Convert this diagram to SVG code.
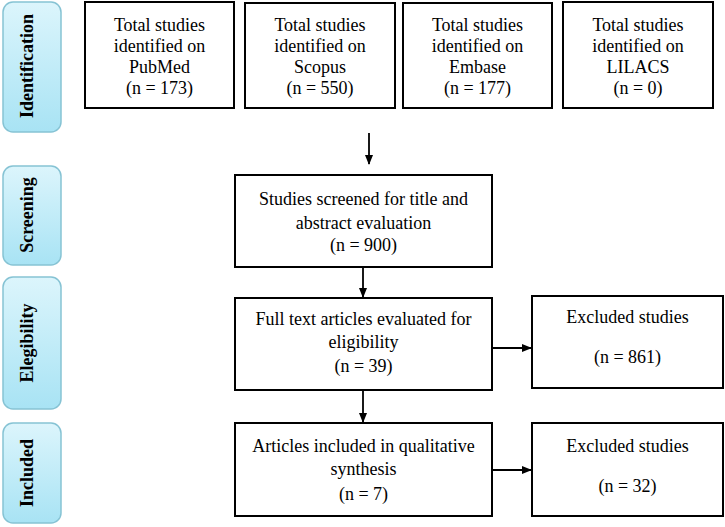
<svg xmlns="http://www.w3.org/2000/svg" width="725" height="527" viewBox="0 0 725 527">
<defs>
<linearGradient id="side" x1="0" y1="0" x2="0" y2="1">
<stop offset="0" stop-color="#dcf5fc"/>
<stop offset="1" stop-color="#a8e3f4"/>
</linearGradient>
<marker id="ah" markerWidth="10" markerHeight="10" refX="9" refY="5" orient="auto" markerUnits="userSpaceOnUse">
<path d="M0,1 L10,5 L0,9 Z" fill="#000"/>
</marker>
</defs>
<style>
.side{fill:url(#side);stroke:#86c3d4;stroke-width:1.5}
.lab{font-size:18px;font-weight:bold;text-anchor:middle;fill:#000}
.box{fill:#fff;stroke:#000;stroke-width:2}
.t{font-size:18px;text-anchor:middle;fill:#000}
.c{stroke:#000;stroke-width:1.8;fill:none;marker-end:url(#ah)}
</style>
<rect width="725" height="527" fill="#fff"/>
<g font-family="Liberation Serif, Times New Roman, DejaVu Serif, serif">
<g id="stage-identification">
<rect class="side" x="3" y="2" width="58" height="130" rx="10"/>
<text class="lab" transform="translate(33,66) rotate(-90)">Identification</text>
</g>
<g id="stage-screening">
<rect class="side" x="3" y="166" width="58" height="99" rx="10"/>
<text class="lab" transform="translate(33,215) rotate(-90)">Screening</text>
</g>
<g id="stage-eligibility">
<rect class="side" x="3" y="277" width="58" height="132" rx="10"/>
<text class="lab" transform="translate(33,343) rotate(-90)">Elegibility</text>
</g>
<g id="stage-included">
<rect class="side" x="3" y="423" width="58" height="100" rx="10"/>
<text class="lab" transform="translate(33,473) rotate(-90)">Included</text>
</g>
<g id="pubmed">
<rect class="box" x="85" y="2" width="149" height="106"/>
<text class="t" x="159.5" y="31">Total studies</text>
<text class="t" x="159.5" y="52">identified on</text>
<text class="t" x="159.5" y="73">PubMed</text>
<text class="t" x="159.5" y="94">(n = 173)</text>
</g>
<g id="scopus">
<rect class="box" x="245" y="3" width="150" height="105"/>
<text class="t" x="320" y="31">Total studies</text>
<text class="t" x="320" y="52">identified on</text>
<text class="t" x="320" y="73">Scopus</text>
<text class="t" x="320" y="94">(n = 550)</text>
</g>
<g id="embase">
<rect class="box" x="403" y="3" width="149" height="105"/>
<text class="t" x="477.5" y="31">Total studies</text>
<text class="t" x="477.5" y="52">identified on</text>
<text class="t" x="477.5" y="73">Embase</text>
<text class="t" x="477.5" y="94">(n = 177)</text>
</g>
<g id="lilacs">
<rect class="box" x="563" y="2" width="150" height="106"/>
<text class="t" x="638" y="31">Total studies</text>
<text class="t" x="638" y="52">identified on</text>
<text class="t" x="638" y="73">LILACS</text>
<text class="t" x="638" y="94">(n = 0)</text>
</g>
<g id="screened">
<rect class="box" x="235" y="175" width="257" height="92"/>
<text class="t" x="363.5" y="205">Studies screened for title and</text>
<text class="t" x="363.5" y="229">abstract evaluation</text>
<text class="t" x="363.5" y="251">(n = 900)</text>
</g>
<g id="fulltext">
<rect class="box" x="235" y="298" width="257" height="92"/>
<text class="t" x="363.5" y="325">Full text articles evaluated for</text>
<text class="t" x="363.5" y="348">eligibility</text>
<text class="t" x="363.5" y="372">(n = 39)</text>
</g>
<g id="excluded1">
<rect class="box" x="532" y="296" width="191" height="92"/>
<text class="t" x="627.5" y="323">Excluded studies</text>
<text class="t" x="627.5" y="363">(n = 861)</text>
</g>
<g id="included">
<rect class="box" x="235" y="423" width="257" height="93"/>
<text class="t" x="363.5" y="452">Articles included in qualitative</text>
<text class="t" x="363.5" y="475">synthesis</text>
<text class="t" x="363.5" y="500">(n = 7)</text>
</g>
<g id="excluded2">
<rect class="box" x="532" y="423" width="191" height="93"/>
<text class="t" x="627.5" y="452">Excluded studies</text>
<text class="t" x="627.5" y="492">(n = 32)</text>
</g>
</g>
<g id="connectors">
<line class="c" x1="369" y1="133" x2="369" y2="164"/>
<line class="c" x1="363" y1="268" x2="363" y2="297"/>
<line class="c" x1="363" y1="391" x2="363" y2="422"/>
<line class="c" x1="493" y1="348" x2="531" y2="348"/>
<line class="c" x1="493" y1="470" x2="531" y2="470"/>
</g>
</svg>
